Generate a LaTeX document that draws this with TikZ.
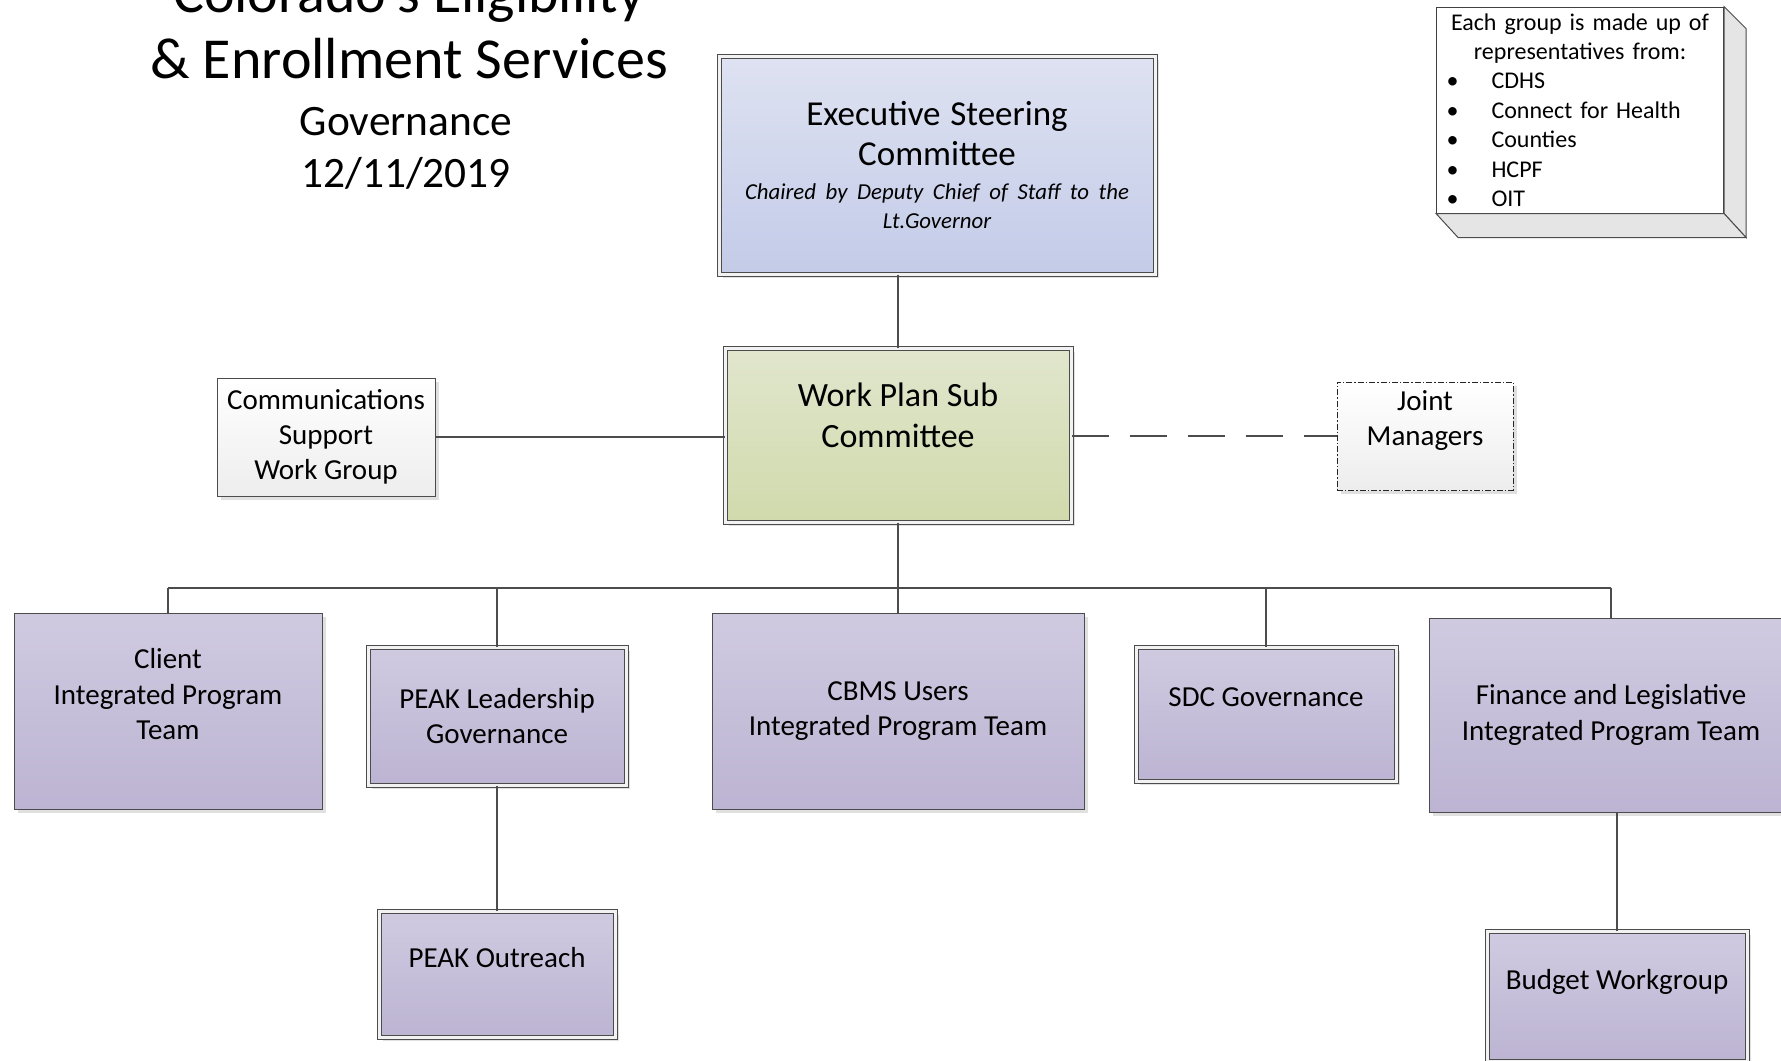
\documentclass[tikz,border=0pt]{standalone}
\usepackage{fontspec}
\setmainfont{Carlito}
\usetikzlibrary{shadows}

\definecolor{teamtop}{RGB}{208,202,225}
\definecolor{teambot}{RGB}{188,180,210}
\definecolor{esctop}{RGB}{222,226,241}
\definecolor{escbot}{RGB}{195,203,232}
\definecolor{wptop}{RGB}{225,230,205}
\definecolor{wpbot}{RGB}{208,218,172}

\begin{document}
\begin{tikzpicture}[x=0.5pt, y=-0.5pt,
    box/.style = {draw=black!70, line width=0.5pt, align=center, font=\fontsize{14.5}{17.6}\selectfont,
                  drop shadow={shadow xshift=2pt, shadow yshift=-2pt, opacity=1, fill=black!12}},
    dbox/.style = {box, double=black!5, double distance=1.5pt},
    team/.style = {top color=teamtop, bottom color=teambot},
    plain/.style = {top color=white, bottom color=black!7},
    link/.style = {draw=black!70, line width=0.6pt},
    face/.style = {draw=black!70, line width=0.5pt, fill=black!10}]

    \useasboundingbox (0,0) rectangle (1781,1060);

    % title
    \node[anchor=base, font=\fontsize{29}{32}\selectfont] (title) at (409,12) {Colorado’s Eligibility};
    \node[anchor=base, font=\fontsize{29}{32}\selectfont] (title2) at (409,78) {\& Enrollment Services};
    \node[anchor=base, font=\fontsize{21.7}{26}\selectfont] (gov) at (406,135) {Governance};
    \node[anchor=base, font=\fontsize{21.7}{26}\selectfont] (date) at (406,187) {12/11/2019};

    % committees
    \node[dbox, top color=esctop, bottom color=escbot, minimum width=218pt, minimum height=109pt, text width=210pt] (esc) at (937,165)
        {{\centering\fontsize{17.5}{20}\selectfont Executive Steering\\Committee\par}\vskip2pt
         {\centering\itshape\fontsize{11.4}{14.8}\selectfont Chaired by Deputy Chief of Staff to the\\Lt.Governor\par}};
    \node[dbox, top color=wptop, bottom color=wpbot, minimum width=173pt, minimum height=87pt, font=\fontsize{17}{20.5}\selectfont] (wp) at (898,435)
        {Work Plan Sub\\Committee\\[-7pt]\strut};
    \node[box, plain, minimum width=109pt, minimum height=59pt] (comm) at (326,437) {Communications\\Support\\Work Group};
    \node[box, plain, draw=black!85, dash pattern=on 3pt off 1pt on 0.7pt off 1pt, minimum width=88pt, minimum height=54pt] (jm) at (1425,436)
        {Joint\\Managers\\[-5pt]\strut};

    % teams
    \node[box, team, minimum width=154pt, minimum height=98pt] (client) at (168,711) {Client\\Integrated Program\\Team\\[-6pt]\strut};
    \node[dbox, team, minimum width=129pt, minimum height=69pt] (peakl) at (497,716) {PEAK Leadership\\Governance};
    \node[box, team, minimum width=186pt, minimum height=98pt] (cbms) at (898,711) {CBMS Users\\Integrated Program Team};
    \node[dbox, team, minimum width=130pt, minimum height=67pt] (sdc) at (1266,714) {SDC Governance\\[-6pt]\strut};
    \node[box, team, minimum width=182pt, minimum height=97pt] (finance) at (1611,715) {Finance and Legislative\\Integrated Program Team};
    \node[dbox, team, minimum width=118pt, minimum height=63pt] (peako) at (497,974) {PEAK Outreach\\[-6pt]\strut};
    \node[dbox, team, minimum width=130pt, minimum height=65pt] (budget) at (1617,996) {Budget Workgroup\\[-6pt]\strut};

    % links
    \draw[link] (esc.south -| wp.north) -- (wp.north);
    \draw[link] (comm.east) -- (comm.east -| wp.west);
    \draw[link, dash pattern=on 18.5pt off 10.5pt] (wp.east |- jm.west) -- (jm.west);
    \draw[link] (wp.south) -- (cbms.north);
    \coordinate (bus) at (898,588);
    \draw[link] (bus -| client.north) -- (bus -| finance.north);
    \foreach \team in {client, peakl, sdc, finance}
        \draw[link] (bus -| \team.north) -- (\team.north);
    \draw[link] (peakl.south) -- (peako.north);
    \draw[link] (finance.south -| budget.north) -- (budget.north);

    % legend box
    \node[draw=black!75, line width=0.5pt, fill=white, minimum width=143.5pt, minimum height=103pt, text width=143.5pt,
          inner xsep=0pt, inner ysep=2pt, align=left, font=\fontsize{12}{14.7}\selectfont] (legend) at (1580,110)
        {{\centering Each group is made up of\\representatives from:\par}
         \begin{list}{\textbullet}{\setlength{\leftmargin}{27.5pt}\setlength{\labelsep}{16.5pt}\setlength{\itemsep}{0pt}%
             \setlength{\parsep}{0pt}\setlength{\topsep}{0pt}\setlength{\partopsep}{0pt}}
         \item CDHS
         \item Connect for Health
         \item Counties
         \item HCPF
         \item OIT
         \end{list}};
    \draw[face] (legend.north east) -- ++(22,22) -- ([shift={(22,24)}]legend.south east) -- (legend.south east) -- cycle;
    \draw[face] (legend.south west) -- ++(22,24) -- ([shift={(22,24)}]legend.south east) -- (legend.south east) -- cycle;

\end{tikzpicture}
\end{document}
